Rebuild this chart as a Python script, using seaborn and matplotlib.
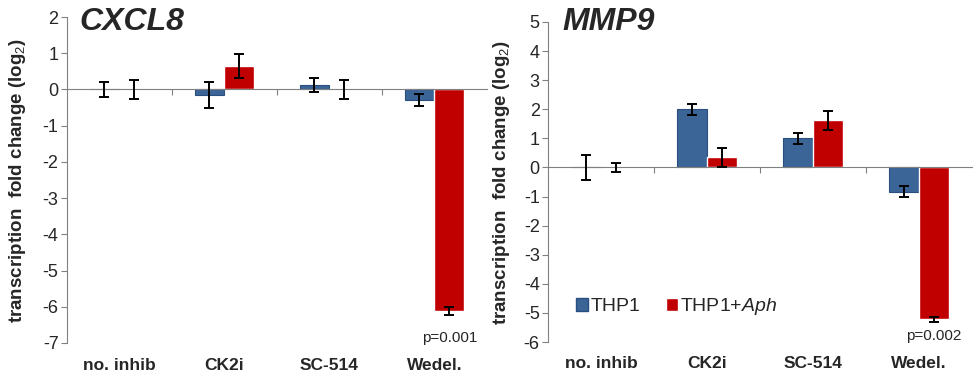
import numpy as np, pandas as pd
import matplotlib; matplotlib.use('Agg')
import matplotlib.pyplot as plt
import seaborn as sns
from matplotlib.patches import Patch

# data
categories = ['no. inhib', 'CK2i', 'SC-514', 'Wedel.']
groups = ['THP1', 'THP1+Aph']

cxcl8_thp1 = [0.0, -0.15, 0.12, -0.30]
cxcl8_thp1_err = [0.20, 0.35, 0.20, 0.17]
cxcl8_aph = [0.0, 0.65, 0.0, -6.12]
cxcl8_aph_err = [0.27, 0.33, 0.27, 0.12]

mmp9_thp1 = [0.0, 2.0, 1.0, -0.83]
mmp9_thp1_err = [0.42, 0.18, 0.18, 0.20]
mmp9_aph = [0.0, 0.35, 1.62, -5.22]
mmp9_aph_err = [0.15, 0.32, 0.32, 0.08]

pvals = ['p=0.001', 'p=0.002']

sns.set_style('white')
plt.rcParams['font.family'] = ['Liberation Sans', 'DejaVu Sans']
plt.rcParams['mathtext.fontset'] = 'custom'
plt.rcParams['mathtext.it'] = 'Liberation Sans:italic'
plt.rcParams['mathtext.rm'] = 'Liberation Sans'
plt.rcParams['mathtext.bf'] = 'Liberation Sans:bold'

BLUE, RED = '#3B6597', '#C00000'
GRAY = '#808080'

fig = plt.figure(figsize=(9.76, 3.78), dpi=100)
ax1 = fig.add_axes([0.0686, 0.0926, 0.4303, 0.8624])
ax2 = fig.add_axes([0.5615, 0.0952, 0.4344, 0.8466])


def panel(ax, title, a, ae, b, be, ylim, yticks, pval, ptext_y, tpos, lab_x):
    df = pd.DataFrame({'cat': categories * 2,
                       'grp': [groups[0]] * 4 + [groups[1]] * 4,
                       'val': a + b})
    sns.barplot(data=df, x='cat', y='val', hue='grp', order=categories,
                hue_order=groups, palette=[BLUE, RED], width=0.57,
                errorbar=None, legend=False, ax=ax, saturation=1)
    errs = [ae, be]
    for cont, err, vals in zip(ax.containers, errs, [a, b]):
        for bar, e, v in zip(cont, err, vals):
            xc = bar.get_x() + bar.get_width() / 2
            ax.errorbar(xc, v, yerr=e, fmt='none', ecolor='black',
                        elinewidth=1.4, capsize=3.5, capthick=1.4, zorder=5)
    for bar in ax.containers[0]:
        bar.set_edgecolor('#2A4E7E'); bar.set_linewidth(0.8)
    ax.set_xlim(-0.5, 3.5)
    ax.set_ylim(*ylim)
    ax.set_yticks(yticks)
    ax.set_yticklabels([str(t) for t in yticks], fontsize=13)
    for s in ['top', 'right']:
        ax.spines[s].set_visible(False)
    ax.spines['left'].set_color(GRAY)
    ax.spines['bottom'].set_position(('data', 0))
    ax.spines['bottom'].set_color(GRAY)
    ax.set_xticks([0.5, 1.5, 2.5])
    ax.set_xticklabels([])
    ax.tick_params(axis='x', direction='out', length=4, color=GRAY, bottom=True)
    ax.tick_params(axis='y', direction='out', length=4, color=GRAY, left=True, pad=2)
    ax.set_xlabel('')
    ax.set_ylabel('transcription  fold change (log$_2$)', fontsize=13.5,
                  fontweight='bold')
    ax.yaxis.set_label_coords(lab_x, 0.5)
    for i, c in enumerate(categories):
        ax.text(i, -0.068, c, transform=ax.get_xaxis_transform(), ha='center',
                va='center', fontsize=12.5, fontweight='bold')
    ax.text(tpos[0], tpos[1], title, transform=ax.transAxes, fontsize=23,
            fontweight='bold', fontstyle='italic', ha='left', va='center')
    xr = ax.containers[1][3].get_x() + ax.containers[1][3].get_width() / 2
    ax.text(xr, ptext_y, pval, ha='center', va='center', fontsize=11)


panel(ax1, 'CXCL8', cxcl8_thp1, cxcl8_thp1_err, cxcl8_aph, cxcl8_aph_err,
      (-7, 2), list(range(-7, 3)), pvals[0], -6.85, (0.03, 0.985), -0.092)
panel(ax2, 'MMP9', mmp9_thp1, mmp9_thp1_err, mmp9_aph, mmp9_aph_err,
      (-6, 5), list(range(-6, 6)), pvals[1], -5.78, (0.033, 1.0), -0.085)

handles = [Patch(facecolor=BLUE, edgecolor='#2A4E7E'), Patch(facecolor=RED)]
ax2.legend(handles, ['THP1', 'THP1+$\\it{Aph}$'], loc='center left',
           bbox_to_anchor=(0.025, 0.11), ncol=2, frameon=False, fontsize=14,
           handlelength=0.6, handleheight=0.6, handletextpad=0.15,
           columnspacing=1.3)

fig.savefig('out.png', dpi=100)
